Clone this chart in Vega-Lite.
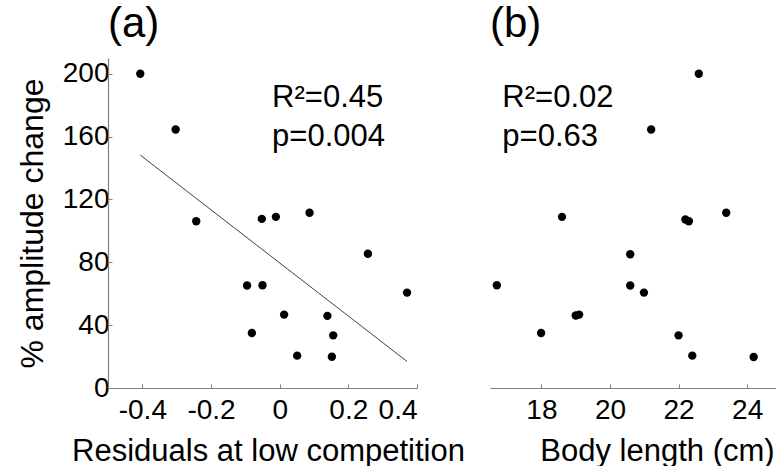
{
  "$schema": "https://vega.github.io/schema/vega-lite/v6.json",
  "background": "white",
  "padding": {"left": 16, "top": 3, "right": 0, "bottom": 0},
  "spacing": 73,
  "bounds": "flush",
  "datasets": {
    "pa": [
      {"resid": -0.406, "amp": 200},
      {"resid": -0.303, "amp": 164.5},
      {"resid": -0.243, "amp": 106.1},
      {"resid": -0.052, "amp": 107.6},
      {"resid": -0.011, "amp": 108.9},
      {"resid": 0.087, "amp": 111.5},
      {"resid": 0.257, "amp": 85.4},
      {"resid": 0.371, "amp": 60.7},
      {"resid": -0.095, "amp": 65.2},
      {"resid": -0.05, "amp": 65.4},
      {"resid": 0.013, "amp": 46.7},
      {"resid": 0.139, "amp": 45.9},
      {"resid": -0.081, "amp": 35.0},
      {"resid": 0.156, "amp": 33.5},
      {"resid": 0.051, "amp": 20.6},
      {"resid": 0.152, "amp": 19.9}
    ],
    "fit": [
      {"resid": -0.406, "amp": 148.2},
      {"resid": 0.371, "amp": 16.9}
    ],
    "pb": [
      {"len": 22.59, "amp": 200},
      {"len": 21.2, "amp": 164.5},
      {"len": 18.6, "amp": 108.9},
      {"len": 22.2, "amp": 107.2},
      {"len": 22.3, "amp": 106.1},
      {"len": 23.39, "amp": 111.5},
      {"len": 20.59, "amp": 85.1},
      {"len": 16.7, "amp": 65.4},
      {"len": 20.59, "amp": 65.2},
      {"len": 20.99, "amp": 60.7},
      {"len": 19.0, "amp": 46.1},
      {"len": 19.1, "amp": 46.7},
      {"len": 17.99, "amp": 35.0},
      {"len": 22.0, "amp": 33.5},
      {"len": 22.4, "amp": 20.6},
      {"len": 24.19, "amp": 19.7}
    ],
    "ta": [
      {"resid": -0.022, "amp": 179, "label": "R²=0.45"},
      {"resid": -0.022, "amp": 154, "label": "p=0.004"}
    ],
    "tb": [
      {"len": 16.86, "amp": 179, "label": "R²=0.02"},
      {"len": 16.86, "amp": 154, "label": "p=0.63"}
    ]
  },
  "config": {
    "font": "Liberation Sans",
    "view": {"stroke": null},
    "axis": {
      "grid": false,
      "domainColor": "#808080",
      "domainWidth": 1.2,
      "tickColor": "#808080",
      "tickSize": -4,
      "labelFont": "Liberation Sans",
      "labelFontSize": 28,
      "labelColor": "black",
      "titleFont": "Liberation Sans",
      "titleFontSize": 31,
      "titleFontWeight": "normal",
      "titleColor": "black"
    },
    "title": {
      "font": "Liberation Sans",
      "fontSize": 42,
      "fontWeight": "normal",
      "anchor": "start",
      "baseline": "alphabetic",
      "offset": 12,
      "color": "black"
    }
  },
  "hconcat": [
    {
      "width": 309,
      "height": 330,
      "title": {"text": "(a)", "frame": "group"},
      "layer": [
        {
          "data": {"name": "fit"},
          "mark": {"type": "line", "color": "#404040", "strokeWidth": 1},
          "encoding": {
            "x": {"field": "resid", "type": "quantitative"},
            "y": {"field": "amp", "type": "quantitative"}
          }
        },
        {
          "data": {"name": "pa"},
          "mark": {"type": "circle", "color": "black", "opacity": 1, "size": 70},
          "encoding": {
            "x": {
              "field": "resid", "type": "quantitative",
              "scale": {"domain": [-0.5, 0.4], "nice": false, "zero": false},
              "axis": {
                "title": "Residuals at low competition",
                "values": [-0.4, -0.2, 0, 0.2, 0.4],
                "labelExpr": "datum.value == 0 ? '0' : (datum.value < 0 ? '-' + format(-datum.value, '.1f') : format(datum.value, '.1f'))",
                "labelPadding": 12,
                "titleY": 72,
                "titleBaseline": "alphabetic",
                "titleX": 160
              }
            },
            "y": {
              "field": "amp", "type": "quantitative",
              "scale": {"domain": [0, 210], "nice": false},
              "axis": {
                "title": "% amplitude change",
                "titleFontSize": 32,
                "values": [0, 40, 80, 120, 160, 200],
                "labelPadding": 3,
                "titleX": -66,
                "titleBaseline": "alphabetic"
              }
            }
          }
        },
        {
          "data": {"name": "ta"},
          "mark": {"type": "text", "align": "left", "baseline": "alphabetic", "fontSize": 31, "color": "black"},
          "encoding": {
            "x": {"field": "resid", "type": "quantitative"},
            "y": {"field": "amp", "type": "quantitative"},
            "text": {"field": "label"}
          }
        }
      ]
    },
    {
      "width": 288,
      "height": 330,
      "title": {"text": "(b)", "frame": "group"},
      "layer": [
        {
          "data": {"name": "pb"},
          "mark": {"type": "circle", "color": "black", "opacity": 1, "size": 70},
          "encoding": {
            "x": {
              "field": "len", "type": "quantitative",
              "scale": {"domain": [16.5, 24.9], "nice": false, "zero": false},
              "axis": {
                "title": "Body length (cm)",
                "values": [18, 20, 22, 24],
                "labelPadding": 12,
                "titleY": 72,
                "titleBaseline": "alphabetic",
                "titleX": 167
              }
            },
            "y": {
              "field": "amp", "type": "quantitative",
              "scale": {"domain": [0, 210], "nice": false},
              "axis": null
            }
          }
        },
        {
          "data": {"name": "tb"},
          "mark": {"type": "text", "align": "left", "baseline": "alphabetic", "fontSize": 31, "color": "black"},
          "encoding": {
            "x": {"field": "len", "type": "quantitative"},
            "y": {"field": "amp", "type": "quantitative"},
            "text": {"field": "label"}
          }
        }
      ]
    }
  ]
}
